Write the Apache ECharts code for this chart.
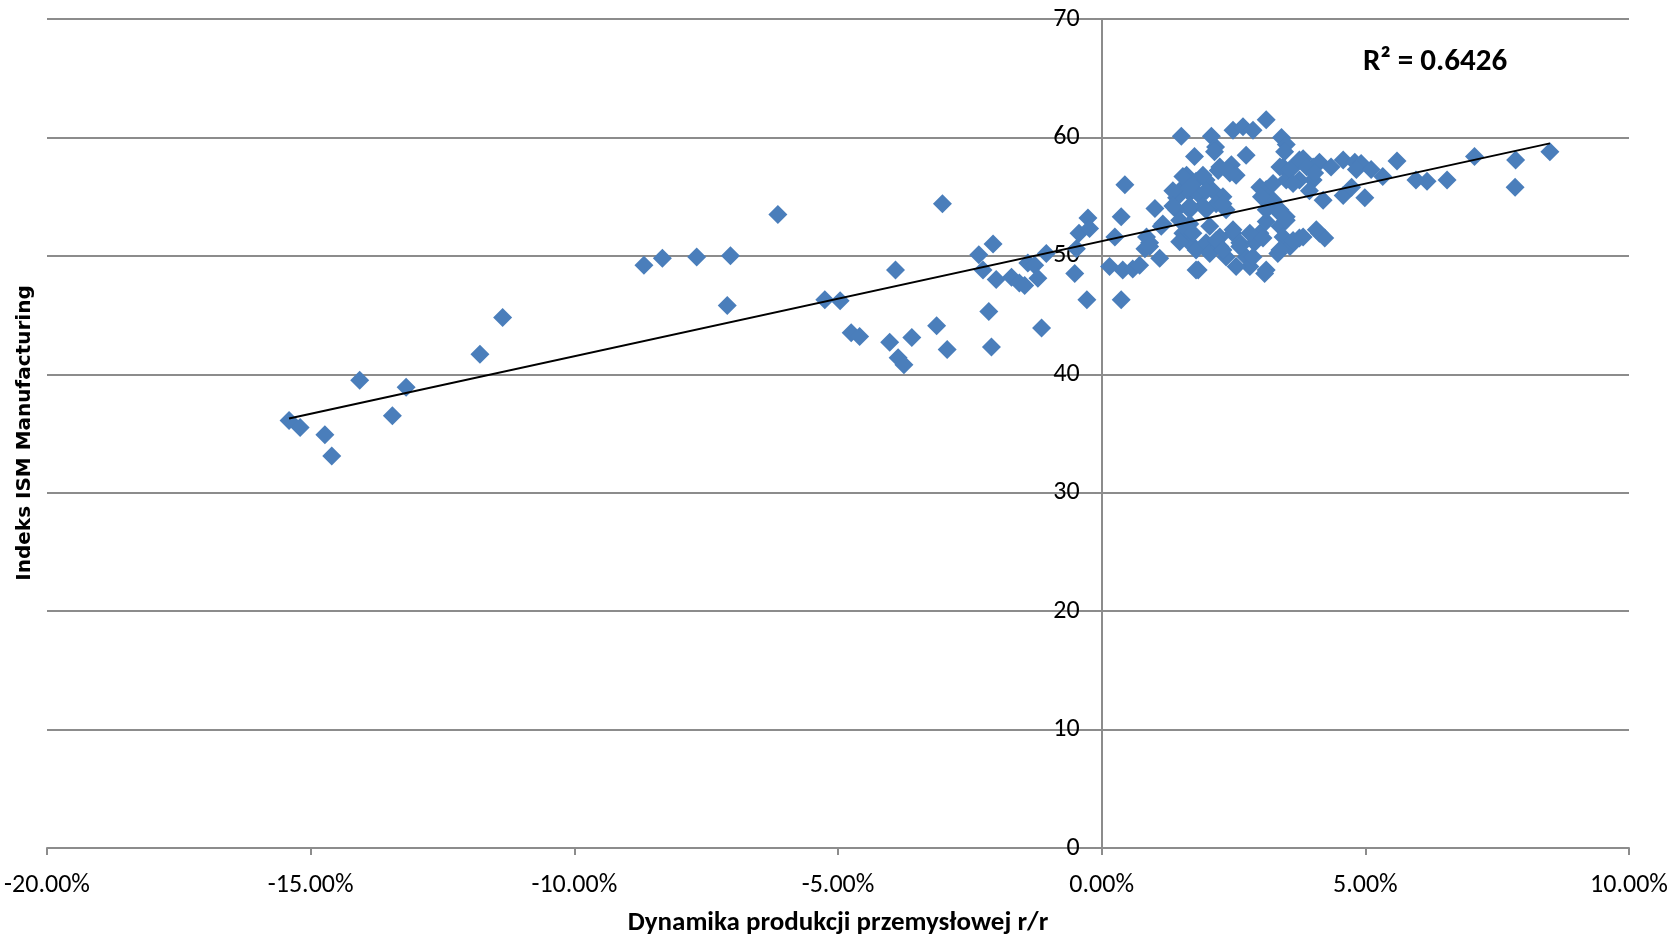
<!DOCTYPE html>
<html>
<head>
<meta charset="utf-8">
<title>ISM vs produkcja przemysłowa</title>
<script src="https://cdn.jsdelivr.net/npm/echarts@6/dist/echarts.min.js"></script>
<style>
  html, body { margin: 0; padding: 0; background: #ffffff; }
  #chart { width: 1673px; height: 937px; }
</style>
</head>
<body>
<div id="chart"></div>
<script>
// Year-on-year industrial production growth (%) and matching ISM Manufacturing readings
const productionGrowth = [
  -15.41, -15.2, -14.73, -14.6, -14.07, -13.45, -13.19, -11.79, -11.36,
  -8.68, -8.33, -7.68, -7.04, -7.1, -6.14, -5.25, -4.96, -4.75, -4.59,
  -4.02, -3.91, -3.86, -3.75, -3.6, -3.13, -3.02, -2.93, -2.33, -2.25,
  -2.14, -2.09, -2.06, -2.0, -1.71, -1.56, -1.46, -1.4, -1.27, -1.21,
  -1.14, -1.05, -0.51, -0.48, -0.43, -0.28, -0.26, -0.23,
  0.44, 1.51, 1.76, 2.08, 2.16, 2.49, 2.68, 2.87, 3.12, 2.74, 3.41, 3.5,
  2.21, 2.46, 2.55, 1.61, 1.79, 1.98, 1.48, 1.42, 1.67, 1.86, 2.11, 2.3,
  1.01, 0.37, 0.25, 1.13, 1.42, 1.48, 1.67, 1.92, 2.17, 2.36,
  0.91, 0.82, 1.1, 0.15, 0.4, 0.59, 0.37, 1.67, 1.54, 1.79, 1.83, 1.98,
  2.05, 2.24, 2.24, 2.36, 2.49, 2.62, 2.74, 2.81, 3.0, 2.9, 3.09,
  3.12, 3.25, 3.0, 3.03, 3.44, 3.63, 3.82, 4.01, 4.13, 3.5, 3.75, 4.01,
  3.94, 4.2, 3.38, 3.5, 3.38, 3.12, 3.44, 3.57, 3.75, 4.13, 4.23, 3.34,
  2.14, 3.47, 3.75, 2.24, 2.43, 1.54, 1.92, 3.38, 3.57, 3.89, 4.04,
  1.35, 1.67, 1.98, 3.25, 3.63, 1.35, 1.67, 1.98, 2.3, 1.67, 3.12, 3.38,
  3.5, 1.16, 0.85, 0.91, 1.48, 1.73, 1.79, 2.05, 2.17, 2.3, 2.49, 2.62,
  2.81, 2.87, 3.06, 3.12, 3.38, 3.63, 3.82, 4.07, 0.72, 2.55,
  4.35, 4.58, 4.8, 4.92, 4.83, 5.11, 5.33, 5.6, 5.96, 6.17, 6.55, 7.07,
  7.85, 7.84, 8.5, 4.58, 4.74, 4.99
];
const ismIndex = [
  36.1, 35.5, 34.9, 33.1, 39.5, 36.5, 38.9, 41.7, 44.8,
  49.2, 49.8, 49.9, 50.0, 45.8, 53.5, 46.3, 46.2, 43.5, 43.2,
  42.7, 48.8, 41.4, 40.8, 43.1, 44.1, 54.4, 42.1, 50.1, 48.8,
  45.3, 42.3, 51.0, 48.0, 48.2, 47.7, 47.5, 49.4, 49.2, 48.1,
  43.9, 50.2, 48.5, 50.6, 51.9, 46.3, 53.2, 52.3,
  56.0, 60.1, 58.4, 60.1, 59.2, 60.6, 60.9, 60.6, 61.5, 58.5, 60.0, 59.4,
  57.2, 57.7, 56.8, 56.8, 56.3, 56.4, 55.5, 54.9, 55.3, 55.1, 55.5, 55.0,
  54.0, 53.3, 51.6, 52.5, 53.9, 53.0, 53.9, 54.2, 54.4, 53.9,
  51.1, 50.6, 49.8, 49.1, 48.8, 48.9, 46.3, 51.1, 51.9, 50.5, 48.8, 51.1,
  50.2, 51.6, 50.8, 49.9, 51.9, 51.1, 49.9, 49.1, 51.9, 51.1, 48.5,
  55.6, 54.7, 55.8, 55.0, 57.5, 57.5, 58.2, 57.5, 57.9, 56.4, 56.4, 56.4,
  55.5, 54.7, 53.9, 53.3, 52.5, 52.9, 51.6, 50.8, 51.5, 51.9, 51.5, 50.2,
  58.8, 58.8, 58.1, 57.5, 57.0, 56.7, 56.8, 57.5, 57.3, 57.5, 57.0,
  55.5, 55.8, 55.5, 56.1, 56.1, 54.2, 54.2, 53.9, 54.4, 52.7, 53.9, 53.6,
  53.0, 52.7, 51.6, 50.8, 51.2, 51.9, 48.8, 52.5, 51.3, 50.5, 52.2, 50.8,
  51.9, 49.9, 51.5, 48.8, 50.5, 51.3, 51.6, 52.2, 49.2, 49.1,
  57.5, 58.1, 57.9, 57.8, 57.3, 57.3, 56.7, 58.0, 56.4, 56.3, 56.4, 58.4,
  58.1, 55.8, 58.8, 55.1, 55.8, 54.9
];

// Linear trend (ISM = slope * growth + intercept) and its fit statistic
const trendSlope = 0.9715;
const trendIntercept = 51.24;
const rSquared = 0.6426;

// Axis tick values
const xTicks = { min: -20, max: 10, step: 5 };
const yTicks = { min: 0, max: 70, step: 10 };

const points = productionGrowth.map((g, i) => [g, ismIndex[i]]);
const gMin = Math.min(...productionGrowth);
const gMax = Math.max(...productionGrowth);
const trendLine = [gMin, gMax].map(g => [g, trendSlope * g + trendIntercept]);

const narrow = "Carlito, 'Liberation Sans Narrow', 'DejaVu Sans Condensed', sans-serif";
const gridColor = '#8c8c8c';

// Plot area in pixels; the value axis is drawn where growth = 0
const gridBox = { left: 47, right: 44, top: 19, bottom: 89 };
const plotWidth = 1673 - gridBox.left - gridBox.right;
const zeroOffset = (0 - xTicks.min) / (xTicks.max - xTicks.min) * plotWidth;

const chart = echarts.init(document.getElementById('chart'), null, { renderer: 'canvas' });
chart.setOption({
  animation: false,
  backgroundColor: '#ffffff',
  grid: Object.assign({ containLabel: false, outerBoundsMode: 'none' }, gridBox),
  xAxis: {
    type: 'value',
    min: xTicks.min, max: xTicks.max, interval: xTicks.step,
    axisLine: { onZero: false, lineStyle: { color: gridColor, width: 2 } },
    axisTick: { show: true, length: 7, lineStyle: { color: gridColor, width: 2 } },
    axisLabel: {
      color: '#000', fontFamily: narrow, fontSize: 26, margin: 24,
      formatter: v => v.toFixed(2) + '%'
    },
    splitLine: { show: false }
  },
  yAxis: {
    type: 'value',
    offset: -zeroOffset,
    min: yTicks.min, max: yTicks.max, interval: yTicks.step,
    axisLine: { show: true, onZero: false, lineStyle: { color: gridColor, width: 2 } },
    axisTick: { show: true, length: 6, lineStyle: { color: gridColor, width: 2 } },
    axisLabel: { color: '#000', fontFamily: narrow, fontSize: 26, margin: 22 },
    splitLine: { show: true, lineStyle: { color: gridColor, width: 2 } }
  },
  graphic: [
    {
      type: 'text', x: 25, y: 433, rotation: Math.PI / 2,
      style: {
        text: 'Indeks ISM Manufacturing', fill: '#000',
        font: "bold 20px 'DejaVu Sans', sans-serif",
        align: 'center', verticalAlign: 'middle'
      }
    },
    {
      type: 'text', x: 838, y: 923,
      style: {
        text: 'Dynamika produkcji przemysłowej r/r', fill: '#000',
        font: "bold 27px " + narrow,
        align: 'center', verticalAlign: 'middle'
      }
    },
    {
      type: 'text', x: 1435, y: 62,
      style: {
        text: 'R² = ' + rSquared.toFixed(4), fill: '#000',
        font: "bold 31px " + narrow,
        align: 'center', verticalAlign: 'middle'
      }
    }
  ],
  series: [
    {
      type: 'scatter', data: points,
      symbol: 'diamond', symbolSize: 19,
      itemStyle: { color: '#4A7EBB', opacity: 1 },
      z: 2
    },
    {
      type: 'line', data: trendLine,
      symbol: 'none', silent: true,
      lineStyle: { color: '#000', width: 2 },
      z: 3
    }
  ]
});
</script>
</body>
</html>
